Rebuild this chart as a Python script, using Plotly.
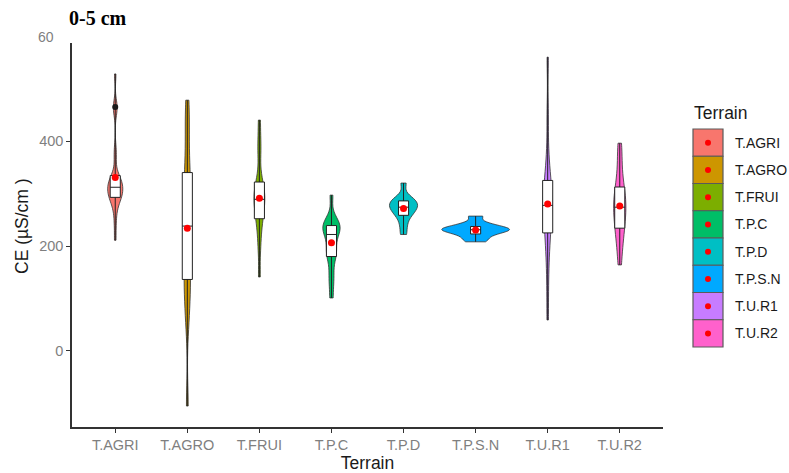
import numpy as np
import plotly.graph_objects as go

# ---- data ----
terrains = ["T.AGRI", "T.AGRO", "T.FRUI", "T.P.C", "T.P.D", "T.P.S.N", "T.U.R1", "T.U.R2"]

ce_agri = [211, 240, 262, 276, 284, 289, 292, 295, 298, 301, 304, 307, 310, 312, 315,
           318, 321, 325, 328, 332, 335, 365, 385, 455, 465, 470, 528]
ce_agro = [-105, 60, 90, 135, 140, 160, 220, 238, 280, 300, 325, 345, 400, 440, 478]
ce_frui = [141, 195, 225, 248, 256, 268, 280, 286, 292, 300, 308, 314, 330, 375, 400, 440]
ce_pc = [101, 130, 150, 178, 186, 190, 205, 222, 228, 232, 236, 240, 245, 250, 297]
ce_pd = [222, 240, 255, 262, 268, 272, 276, 280, 284, 288, 292, 320]
ce_psn = [208, 215, 222, 226, 229, 231, 233, 235, 238, 244, 257]
ce_ur1 = [59, 120, 170, 200, 225, 230, 250, 270, 275, 280, 290, 305, 312, 325, 340, 380, 450, 560]
ce_ur2 = [164, 195, 215, 232, 240, 255, 268, 274, 280, 295, 305, 315, 340, 370, 396]

agri_outliers = [465]

values = [ce_agri, ce_agro, ce_frui, ce_pc, ce_pd, ce_psn, ce_ur1, ce_ur2]

y_ticks = [0, 200, 400]

# ---- styles ----
colors = ["#F8766D", "#CD9600", "#7CAE00", "#00BE67", "#00BFC4", "#00A9FF", "#C77CFF", "#FF61CC"]
violin_widths = [0.21, 0.09, 0.15, 0.24, 0.39, 0.94, 0.12, 0.17]
bandwidths = [14, 40, 22, 16, 10, 5.5, 33, 25]

FONT = "Liberation Sans, Arial, sans-serif"

fig = go.Figure()

for name, vals, col, w, bw in zip(terrains, values, colors, violin_widths, bandwidths):
    fig.add_trace(go.Violin(
        x=[name] * len(vals), y=vals, name=name,
        width=w, scalemode="width", spanmode="hard", bandwidth=bw,
        points=False, box_visible=False, meanline_visible=False,
        fillcolor=col, line=dict(color="#333333", width=0.8), opacity=1,
        showlegend=False, hoverinfo="skip",
    ))

for name, vals in zip(terrains, values):
    fig.add_trace(go.Box(
        x=[name] * len(vals), y=vals, name=name,
        width=0.14, boxpoints=False, whiskerwidth=0, quartilemethod="linear",
        fillcolor="white", line=dict(color="#222222", width=1),
        showlegend=False, hoverinfo="skip",
    ))

fig.add_trace(go.Scatter(
    x=["T.AGRI"] * len(agri_outliers), y=agri_outliers, mode="markers",
    marker=dict(color="#1a1a1a", size=6), showlegend=False, hoverinfo="skip",
))

fig.add_trace(go.Scatter(
    x=terrains, y=[float(np.mean(v)) for v in values], mode="markers",
    marker=dict(color="#FF0000", size=7), showlegend=False, hoverinfo="skip",
))

# ---- layout geometry ----
W, H = 789, 473
L, R, T, B = 72, 126, 43, 46
pw, ph = W - L - R, H - T - B


def px(xp):
    return (xp - L) / pw


def py(yp):
    return 1 - (yp - T) / ph


shapes = []
annotations = []

# custom legend (ggplot style keys with a red mean dot)
key_x0, key_x1 = 693, 723
key_top, key_h = 129, 27.25
for i, (name, col) in enumerate(zip(terrains, colors)):
    y0 = key_top + i * key_h
    y1 = y0 + key_h
    shapes.append(dict(type="rect", xref="paper", yref="paper",
                       x0=px(key_x0), x1=px(key_x1), y0=py(y1), y1=py(y0),
                       fillcolor=col, line=dict(color="#5a5a5a", width=1.2)))
    cx, cy = (key_x0 + key_x1) / 2, (y0 + y1) / 2
    shapes.append(dict(type="circle", xref="paper", yref="paper",
                       x0=px(cx - 3), x1=px(cx + 3), y0=py(cy + 3), y1=py(cy - 3),
                       fillcolor="#FF0000", line=dict(width=0)))
    annotations.append(dict(text=name, xref="paper", yref="paper",
                            x=px(733), y=py(cy), xanchor="left", yanchor="middle",
                            showarrow=False, font=dict(family=FONT, size=14, color="#1a1a1a")))

annotations.append(dict(text="Terrain", xref="paper", yref="paper",
                        x=px(692), y=py(113), xanchor="left", yanchor="middle",
                        showarrow=False, font=dict(family=FONT, size=17.5, color="#1a1a1a")))

annotations.append(dict(text="<b>0-5 cm</b>", xref="paper", yref="paper",
                        x=px(67), y=py(18), xanchor="left", yanchor="middle",
                        showarrow=False, font=dict(family="Liberation Serif, Times New Roman, serif",
                                                   size=20, color="black")))

# partially hidden 600 tick label
annotations.append(dict(text="60", xref="paper", yref="paper",
                        x=px(36), y=py(37), xanchor="left", yanchor="middle",
                        showarrow=False, font=dict(family=FONT, size=14, color="#7f7f7f")))

# y axis title
annotations.append(dict(text="CE (µS/cm )", xref="paper", yref="paper",
                        x=px(22), y=py(226), xanchor="center", yanchor="middle", textangle=-90,
                        showarrow=False, font=dict(family=FONT, size=17.5, color="#1a1a1a")))

fig.update_layout(
    width=W, height=H,
    margin=dict(l=L, r=R, t=T, b=B),
    paper_bgcolor="white", plot_bgcolor="white",
    violinmode="overlay", boxmode="overlay",
    showlegend=False,
    shapes=shapes, annotations=annotations,
    font=dict(family=FONT),
    xaxis=dict(
        type="category", categoryorder="array", categoryarray=terrains,
        range=[-0.6, 7.6], showgrid=False, zeroline=False,
        showline=True, linecolor="#333333", linewidth=1.5,
        ticks="outside", ticklen=4, tickcolor="#333333", tickwidth=1.2,
        tickfont=dict(family=FONT, size=14.5, color="#7f7f7f"),
        title=dict(text="Terrain", font=dict(family=FONT, size=17.5, color="#1a1a1a"), standoff=2),
        automargin=False,
    ),
    yaxis=dict(
        range=[-145, 587], tickvals=y_ticks, showgrid=False, zeroline=False,
        showline=True, linecolor="#333333", linewidth=1.5,
        ticks="outside", ticklen=4, tickcolor="#333333", tickwidth=1.2,
        tickfont=dict(family=FONT, size=14.5, color="#7f7f7f"),
        automargin=False,
    ),
)

fig.write_html("out.html")
